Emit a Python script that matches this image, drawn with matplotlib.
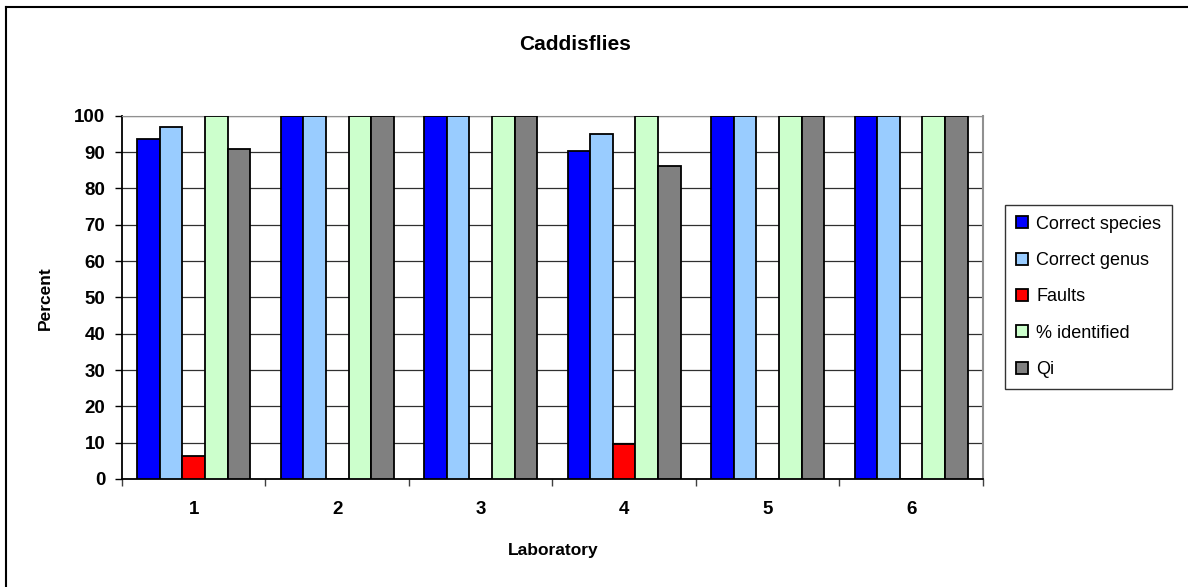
import numpy as np
import matplotlib.pyplot as plt
from matplotlib.lines import Line2D

plt.rcParams['font.family'] = ['Liberation Sans', 'DejaVu Sans']

# Data
labs = ['1', '2', '3', '4', '5', '6']
series_names = ['Correct species', 'Correct genus', 'Faults', '% identified', 'Qi']
correct_species = [93.6, 100, 100, 90.4, 100, 100]
correct_genus = [96.8, 100, 100, 95.0, 100, 100]
faults = [6.4, 0, 0, 9.6, 0, 0]
identified = [100, 100, 100, 100, 100, 100]
qi = [90.8, 100, 100, 86.2, 100, 100]
colors = ['#0000ff', '#99ccff', '#ff0000', '#ccffcc', '#808080']

series = [correct_species, correct_genus, faults, identified, qi]

fig = plt.figure(figsize=(11.88, 5.87), dpi=100)
ax = fig.add_axes([0.1027, 0.184, 0.7247, 0.6186])

x = np.arange(len(labs))
width = 0.157
for i, (vals, name, c) in enumerate(zip(series, series_names, colors)):
    offs = (i - 2) * width
    ax.bar(x + offs, vals, width, color=c, edgecolor='black', linewidth=1.3,
           label=name, zorder=3)

ax.set_xlim(-0.5, len(labs) - 0.5)
ax.set_ylim(0, 100)
ax.set_yticks(np.arange(0, 101, 10))
ax.yaxis.grid(True, color='#303030', linewidth=0.9, zorder=0)
ax.set_xticks(x)
ax.set_xticklabels(labs)
ax.set_xticks(np.arange(-0.5, len(labs)), minor=True)
ax.tick_params(axis='x', which='major', length=0, pad=16)
ax.tick_params(axis='x', which='minor', length=5, width=1, color='#404040')
ax.tick_params(axis='y', length=5, width=1, pad=7)
for lbl in ax.get_xticklabels() + ax.get_yticklabels():
    lbl.set_fontsize(13.5)
    lbl.set_fontweight('bold')

ax.spines['left'].set_color('black')
ax.spines['left'].set_linewidth(1.3)
ax.spines['bottom'].set_color('black')
ax.spines['bottom'].set_linewidth(1.3)
ax.spines['top'].set_color('#909090')
ax.spines['right'].set_color('#909090')
ax.spines['right'].set_linewidth(1.5)

fig.text(45 / 1188, 1 - 298 / 587, 'Percent', rotation=90, ha='center',
         va='center', fontsize=12.5, fontweight='bold')
fig.text(553 / 1188, 1 - 550 / 587, 'Laboratory', ha='center', va='center',
         fontsize=12.5, fontweight='bold')
fig.text(575 / 1188, 1 - 44 / 587, 'Caddisflies', ha='center', va='center',
         fontsize=15, fontweight='bold')

leg = ax.legend(loc='upper left', bbox_to_anchor=(1.026, 0.755), fontsize=13,
                frameon=True, fancybox=False, edgecolor='black',
                handlelength=0.65, handleheight=0.65, handletextpad=0.45,
                labelspacing=1.07, borderpad=0.6, borderaxespad=0)
leg.get_frame().set_linewidth(1.0)

# outer chart border (top and left only visible)
fig.add_artist(Line2D([6 / 1188, 1], [1 - 7 / 587, 1 - 7 / 587], color='black',
                      linewidth=1.5, transform=fig.transFigure))
fig.add_artist(Line2D([6 / 1188, 6 / 1188], [0, 1 - 7 / 587], color='black',
                      linewidth=1.5, transform=fig.transFigure))

fig.savefig('out.png', dpi=100)
